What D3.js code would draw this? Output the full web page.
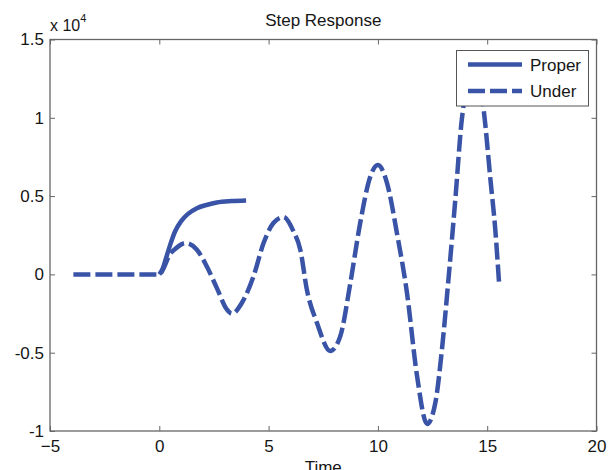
<!DOCTYPE html>
<html>
<head>
<meta charset="utf-8">
<script src="https://cdn.jsdelivr.net/npm/d3@7"></script>
<style>
  html, body { margin: 0; padding: 0; background: #fff; }
  svg { display: block; font-family: "Liberation Sans", Arial, sans-serif; }
</style>
</head>
<body>
<svg id="chart" width="612" height="470"></svg>
<script>
// Step responses of the two systems
const properTime  = [0, 0.15, 0.3, 0.5, 0.72, 1.0, 1.3, 1.72, 2.2, 2.63, 3.3, 3.97];
const properValue = [0, 350, 1000, 1900, 2740, 3400, 3850, 4230, 4450, 4590, 4680, 4720];

const underTime  = [-3.93, 0, 0.2, 0.45, 0.75, 1.2, 1.72, 2.17, 2.63, 3.09, 3.32, 3.78, 4.31, 4.77, 5.22,
                    5.68, 6.14, 6.45, 6.75, 7.21, 7.82, 8.28, 8.74, 9.19, 9.65, 10.0, 10.42, 10.87, 11.33,
                    11.79, 12.25, 12.63, 12.93, 13.24, 13.54, 13.84, 14.38, 14.84, 15.15, 15.37, 15.55];
const underValue = [0, 0, 400, 1200, 1650, 2000, 1580, 520, -860, -2240, -2510, -1810, -120, 2000, 3280,
                    3660, 2740, 1580, -970, -3090, -4890, -3940, -540, 3280, 6240, 6985, 5820, 2640, -1180,
                    -6480, -9550, -8180, -4780, -120, 4760, 9900, 13200, 10480, 6030, 2850, -700];

const xTicks = [-5, 0, 5, 10, 15, 20];
const yTicks = [-10000, -5000, 0, 5000, 10000, 15000];
const yTickLabels = ["-1", "-0.5", "0", "0.5", "1", "1.5"];
const seriesNames = ["Proper", "Under"];

const plotLeft = 50, plotRight = 596.5, plotTop = 39.5, plotBottom = 431;
const lineColor = "#3953a6";
const axisColor = "#666";
const textColor = "#161616";

const svg = d3.select("#chart");
const x = d3.scaleLinear().domain([-5, 20]).range([plotLeft, plotRight]);
const y = d3.scaleLinear().domain([-10000, 15000]).range([plotBottom, plotTop]);

// axes: inward ticks on all four sides
const gx = svg.append("g").attr("transform", `translate(0,${plotBottom})`)
  .call(d3.axisBottom(x).tickValues(xTicks).tickSize(-5).tickPadding(9).tickFormat(d3.format("d")));
const gxTop = svg.append("g").attr("transform", `translate(0,${plotTop})`)
  .call(d3.axisTop(x).tickValues(xTicks).tickSize(-5).tickFormat(""));
const gy = svg.append("g").attr("transform", `translate(${plotLeft},0)`)
  .call(d3.axisLeft(y).tickValues(yTicks).tickSize(-5).tickPadding(6).tickFormat((d, i) => yTickLabels[i]));
const gyRight = svg.append("g").attr("transform", `translate(${plotRight},0)`)
  .call(d3.axisRight(y).tickValues(yTicks).tickSize(-5).tickFormat(""));

[gx, gxTop, gy, gyRight].forEach(g => {
  g.select(".domain").remove();
  g.selectAll(".tick line").attr("stroke", axisColor);
  g.selectAll("text").attr("fill", textColor).style("font-size", "17px");
});

svg.append("rect")
  .attr("x", plotLeft).attr("y", plotTop)
  .attr("width", plotRight - plotLeft).attr("height", plotBottom - plotTop)
  .attr("fill", "none").attr("stroke", axisColor).attr("stroke-width", 1.3);

// exponent label
const expo = svg.append("text").attr("x", 50).attr("y", 31).attr("fill", textColor)
  .style("font-size", "16px");
expo.append("tspan").text("x 10");
expo.append("tspan").attr("dy", -9).style("font-size", "11px").text("4");

// title and x label
svg.append("text").attr("x", (plotLeft + plotRight) / 2).attr("y", 26).attr("text-anchor", "middle")
  .attr("fill", textColor).style("font-size", "17px").text("Step Response");
svg.append("text").attr("x", (plotLeft + plotRight) / 2).attr("y", 473).attr("text-anchor", "middle")
  .attr("fill", textColor).style("font-size", "17px").text("Time");

// curves
const line = d3.line().x(d => x(d[0])).y(d => y(d[1])).curve(d3.curveMonotoneX);
const properData = properTime.map((t, i) => [t, properValue[i]]);
const underData = underTime.map((t, i) => [t, underValue[i]]);

svg.append("path").datum(properData).attr("d", line)
  .attr("fill", "none").attr("stroke", lineColor).attr("stroke-width", 4.5)
  .attr("stroke-linejoin", "round");
svg.append("path").datum(underData).attr("d", line)
  .attr("fill", "none").attr("stroke", lineColor).attr("stroke-width", 4.5)
  .attr("stroke-dasharray", "17,5").attr("stroke-linejoin", "round");

// legend
const lg = svg.append("g");
lg.append("rect").attr("x", 456.5).attr("y", 50.5).attr("width", 132).attr("height", 55.5)
  .attr("fill", "#fff").attr("stroke", "#555").attr("stroke-width", 1);
seriesNames.forEach((name, i) => {
  const ly = 64.5 + i * 26.5;
  lg.append("line").attr("x1", 468).attr("x2", 522).attr("y1", ly).attr("y2", ly)
    .attr("stroke", lineColor).attr("stroke-width", 4.5)
    .attr("stroke-dasharray", i === 1 ? "17,5" : null);
  lg.append("text").attr("x", 530).attr("y", ly + 6).attr("fill", textColor)
    .style("font-size", "17px").text(name);
});
</script>
</body>
</html>
